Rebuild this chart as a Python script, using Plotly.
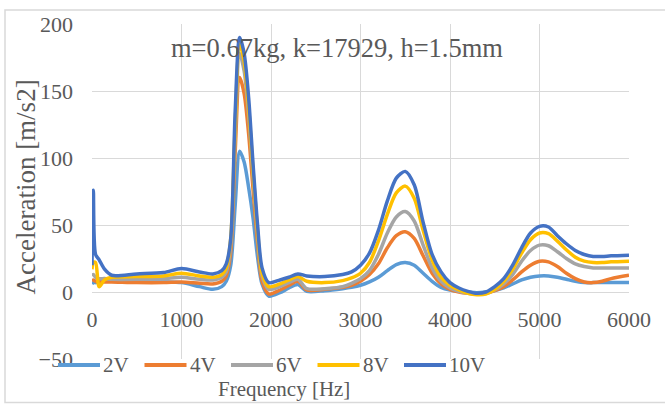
import plotly.graph_objects as go

# Frequency grid [Hz]
freq = [0, 15, 40, 80, 140, 220, 500, 800, 1000, 1200, 1350, 1450, 1500, 1550,
        1600, 1650, 1700, 1750, 1800, 1850, 1900, 1975, 2100, 2200, 2300, 2400,
        2600, 2800, 2900, 3000, 3100, 3200, 3300, 3400, 3500, 3600, 3700, 3800,
        3900, 4000, 4100, 4200, 4300, 4400, 4500, 4600, 4700, 4800, 4900, 5000,
        5100, 5200, 5300, 5400, 5500, 5600, 5700, 5800, 6000]

# Acceleration [m/s2] for each drive voltage
acc_2v = [6, 7, 7, 7.5, 8, 8, 7.5, 7.5, 7, 4, 2, 4, 8, 20,
          65, 105, 97, 78, 55, 26, 6, -3, -0.5, 3, 5.5, 0.5,
          1, 2.5, 3.5, 5, 7.5, 11, 16, 20.5, 22, 20, 14, 8,
          3.5, 1.5, 0.5, 0, -0.5, 0, 1, 3, 6, 9, 11, 12,
          12, 11, 9.5, 8, 7, 7, 7, 7, 7]
acc_4v = [8, 9, 8, 7.5, 7.5, 7.5, 7, 7, 7.5, 6.5, 6, 8, 12, 30,
          105, 160, 148, 118, 76, 37, 8, -1.5, 1.5, 5, 8, 1.5,
          2, 3.5, 5, 8, 13, 21, 33, 42, 45, 40, 27, 14,
          6, 2, 0, -1, -1.5, -1, 1, 4, 9, 15, 20, 23,
          22.5, 19, 14, 10, 7.5, 7, 8, 10, 12.5]
acc_6v = [12, 13, 11, 10, 10, 9.5, 9.5, 10, 11, 9.5, 9, 11, 15, 35,
          118, 178, 165, 132, 86, 43, 12, 2, 4, 7, 9.5, 2.5,
          2.5, 4, 6.5, 10, 16, 28, 44, 56, 60, 53, 35, 18,
          8, 3, 0.5, -1, -1.5, -1, 1.5, 6, 13, 23, 31, 35,
          34.5, 30, 25, 21, 19, 18, 18, 18, 18]
acc_8v = [17, 22, 22, 4, 9, 11, 11.5, 12, 14, 12, 11, 13, 18, 40,
          125, 185, 172, 138, 90, 46, 14, 4, 6, 9, 11.5, 8,
          7, 8.5, 10.5, 14, 22, 38, 58, 74, 79, 70, 46, 24,
          11, 5, 1.5, -1, -2, -1.5, 2, 8, 17, 29, 39, 44,
          43.5, 38, 31.5, 26, 23, 22, 22, 22.5, 23]
acc_10v = [20, 76, 28, 24, 17, 12.5, 13.5, 14.5, 17.5, 15, 13.5, 16, 21, 40,
           135, 190, 178, 145, 95, 50, 18, 7, 9, 11, 13.5, 12,
           11.5, 13, 15, 20, 29, 46, 68, 85, 90, 80, 52, 28,
           15, 7, 3, 0.5, -1, 0, 4, 10, 20, 33, 44, 49,
           48.5, 42, 36, 31, 28, 26.5, 26.5, 27, 27.5]

series_names = ["2V", "4V", "6V", "8V", "10V"]
series_values = [acc_2v, acc_4v, acc_6v, acc_8v, acc_10v]
series_colors = ["#5B9BD5", "#ED7D31", "#A5A5A5", "#FFC000", "#4472C4"]

x_ticks = [0, 1000, 2000, 3000, 4000, 5000, 6000]
y_ticks = [-50, 0, 50, 100, 150, 200]

W, H = 665, 405
L, R, T, B = 92, 36, 21, 46
PW, PH = W - L - R, H - T - B
FONT = "Liberation Serif"
TXT = "#595959"
GRID = "#D9D9D9"


def px_x(p):
    return (p - L) / PW


def px_y(p):
    return (H - B - p) / PH


fig = go.Figure()
for name, vals, col in zip(series_names, series_values, series_colors):
    fig.add_trace(go.Scatter(
        x=freq, y=vals, name=name, mode="lines",
        line=dict(color=col, width=3.5, shape="spline", smoothing=0.8),
        showlegend=False,
    ))

# Legend drawn as a single row of line samples with labels
shapes = []
annotations = []
leg_x0, leg_step, leg_len, leg_y = 58, 86.5, 42, 365
for i, (name, col) in enumerate(zip(series_names, series_colors)):
    x0 = leg_x0 + i * leg_step
    shapes.append(dict(type="line", xref="paper", yref="paper",
                       x0=px_x(x0), x1=px_x(x0 + leg_len),
                       y0=px_y(leg_y), y1=px_y(leg_y),
                       line=dict(color=col, width=4)))
    annotations.append(dict(text=name, xref="paper", yref="paper",
                            x=px_x(x0 + leg_len + 2), y=px_y(leg_y),
                            xanchor="left", yanchor="middle", showarrow=False,
                            borderpad=0,
                            font=dict(family=FONT, size=21, color=TXT)))

# Chart frame
shapes.append(dict(type="rect", xref="paper", yref="paper",
                   x0=px_x(5), x1=px_x(672), y0=px_y(7), y1=px_y(403),
                   line=dict(color=GRID, width=1.5), fillcolor="rgba(0,0,0,0)",
                   layer="below"))

annotations.append(dict(text="m=0.67kg, k=17929, h=1.5mm", xref="paper", yref="paper",
                        x=px_x(337), y=px_y(45), xanchor="center", yanchor="middle",
                        showarrow=False, font=dict(family=FONT, size=26.5, color=TXT)))
annotations.append(dict(text="Frequency [Hz]", xref="paper", yref="paper",
                        x=px_x(284), y=px_y(389), xanchor="center", yanchor="middle",
                        showarrow=False, borderpad=0,
                        font=dict(family=FONT, size=21, color=TXT)))
annotations.append(dict(text="Acceleration [m/s2]", xref="paper", yref="paper",
                        x=px_x(26), y=px_y(186), xanchor="center", yanchor="middle",
                        textangle=-90, showarrow=False,
                        font=dict(family=FONT, size=27, color=TXT)))

y_min, y_max = y_ticks[0], y_ticks[-1]

fig.update_layout(
    width=W, height=H,
    margin=dict(l=L, r=R, t=T, b=B, pad=0),
    paper_bgcolor="white", plot_bgcolor="white",
    font=dict(family=FONT, size=22, color=TXT),
    shapes=shapes, annotations=annotations,
    xaxis=dict(range=[x_ticks[0], x_ticks[-1]], tickvals=x_ticks,
               showgrid=True, gridcolor=GRID, gridwidth=1,
               zeroline=False, showline=False, ticks="",
               anchor="free", position=(0 - y_min) / (y_max - y_min),
               ticklabelstandoff=12,
               tickfont=dict(family=FONT, size=22, color=TXT)),
    yaxis=dict(range=[y_min, y_max], tickvals=y_ticks,
               showgrid=True, gridcolor=GRID, gridwidth=1,
               zeroline=True, zerolinecolor=GRID, zerolinewidth=1,
               showline=False, ticks="", ticklabelstandoff=18,
               tickfont=dict(family=FONT, size=22, color=TXT)),
    showlegend=False,
)

fig.write_html("out.html")
